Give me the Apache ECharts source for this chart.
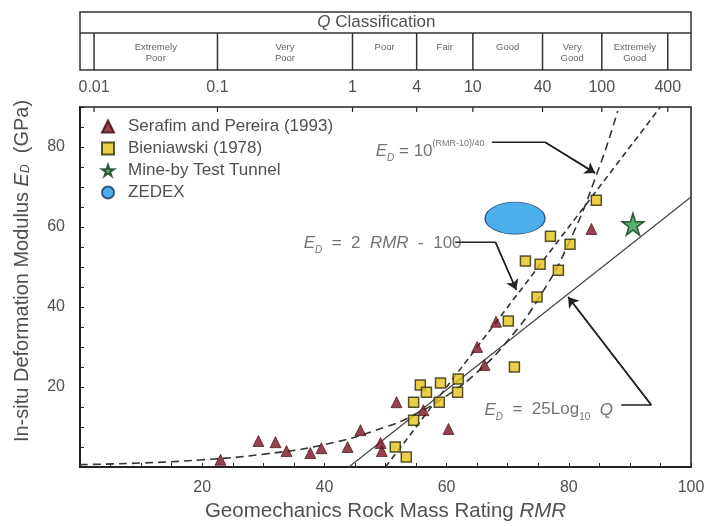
<!DOCTYPE html>
<html><head><meta charset="utf-8">
<script src="https://cdn.jsdelivr.net/npm/echarts@6/dist/echarts.min.js"></script>
<style>html,body{margin:0;padding:0;background:#fff}#c{width:709px;height:526px}</style>
</head><body><div id="c"></div>
<script>
// ---- data ----
const serafim = [[23,1.8],[29.2,6.5],[32,6.2],[33.8,4],[37.7,3.5],[39.5,4.7],[43.8,5],[45.9,9.2],[49.2,6],[49.4,4],[51.8,16.2],[56.2,14.2],[60.3,9.5],[65,30],[66.2,25.5],[68.1,36.3],[83.7,59.5]];
const bieniawski = [[84.5,66.7],[77,57.7],[80.2,55.7],[72.9,51.5],[75.3,50.7],[78.3,49.2],[74.8,42.5],[70.1,36.5],[71.1,25],[61.9,22],[59,21],[55.7,20.5],[56.7,18.7],[61.8,18.7],[54.6,16.2],[58.8,16.2],[54.6,11.7],[51.6,5],[53.4,2.5]];
const mineBy = [[90.5,60.7]];
const zedex = [[71.2,62.2]];
const fitLog = [[44,0],[100,67.5]];
const fitLinear = [[50,0],[95,90]];
const fitExp = [[0,0.6],[10,1.0],[20,1.8],[30,3.2],[40,5.6],[50,10],[55,13.3],[60,17.8],[65,23.7],[70,31.6],[75,42],[80,56],[85,75],[88,89]];
const qTickLabels = ['0.01','0.1','1','4','10','40','100','400'];
const qTickRmr = [2.3,22.5,44.6,55.1,64.3,75.7,85.4,96.2];
const qClasses = ['Extremely\nPoor','Very\nPoor','Poor','Fair','Good','Very\nGood','Extremely\nGood'];
const xTickLabels = [20,40,60,80,100];
const yTickLabels = [20,40,60,80];
const annotAnchors = [[48.4,79],[36.6,56],[66.2,14.3]];
const leaderExp = [[67.4,81.2],[76.1,81.2],[84.3,73.5]];
const leaderLin = [[61.4,56.2],[68,56.2],[71.4,44.3]];
const leaderLog = [[88.6,15.5],[93.5,15.5],[79.9,42.5]];
const legendNames = ['Serafim and Pereira (1993)','Bieniawski (1978)','Mine-by Test Tunnel','ZEDEX'];

const FONT = '"Liberation Sans", Arial, sans-serif';
const TXT = '#505050';
const STAR = 'path://M50,0 L61,35 L98,35 L68,57 L79,91 L50,70 L21,91 L32,57 L2,35 L39,35 Z';

function leader(data){
  const n = data.length;
  return {
    type:'line', data:data, symbol:'none', silent:true, animation:false, z:4,
    lineStyle:{color:'#222', width:1.5},
    markLine:{silent:true, animation:false, symbol:['none','arrow'], symbolSize:10,
      label:{show:false}, lineStyle:{color:'#222', width:1.5, type:'solid'},
      data:[[{coord:data[n-2]},{coord:data[n-1]}]]}
  };
}
const richBase = {
  n:{fontSize:17, color:TXT, fontFamily:FONT, lineHeight:24},
  e:{fontSize:17, color:TXT, fontFamily:FONT, fontStyle:'italic', lineHeight:24},
  sub:{fontSize:10, color:TXT, fontFamily:FONT, fontStyle:'italic', verticalAlign:'bottom', lineHeight:24},
  subn:{fontSize:10, color:TXT, fontFamily:FONT, verticalAlign:'bottom', lineHeight:24},
  sup:{fontSize:9, color:TXT, fontFamily:FONT, verticalAlign:'top', lineHeight:24}
};
const annotTexts = [
  '{e|E}{sub|D}{n| = 10}{sup|(RMR-10)/40}',
  '{e|E}{sub|D}{n|  =  2  }{e|RMR}{n|  -  100}',
  '{e|E}{sub|D}{n|  =  25Log}{subn|10}{n|  }{e|Q}'
];

const chart = echarts.init(document.getElementById('c'), null, {renderer:'canvas'});
chart.setOption({
  animation:false,
  backgroundColor:'#fff',
  textStyle:{fontFamily:FONT},
  grid:[
    {left:80, right:18, top:107, bottom:59, show:true, borderColor:'#222', borderWidth:1.5, containLabel:false, outerBoundsMode:'none'},
    {left:80, right:18, top:12, height:58, show:true, borderColor:'#333', borderWidth:1.5, containLabel:false, outerBoundsMode:'none'}
  ],
  legend:{
    orient:'vertical', left:96, top:113, itemWidth:12, itemHeight:12, itemGap:5,
    data:[
      {name:legendNames[0], icon:'triangle'},
      {name:legendNames[1], icon:'rect'},
      {name:legendNames[2], icon:STAR},
      {name:legendNames[3], icon:'circle'}
    ],
    textStyle:{fontSize:17, color:TXT, fontFamily:FONT, padding:[0,0,0,9]}
  },
  xAxis:[
    {gridIndex:0, type:'value', min:0, max:100, interval:5,
     name:'{n|Geomechanics Rock Mass Rating }{i|RMR}', nameLocation:'middle', nameGap:34,
     nameTextStyle:{rich:{n:{fontSize:20.5, color:TXT, fontFamily:FONT}, i:{fontSize:20.5, color:TXT, fontFamily:FONT, fontStyle:'italic'}}},
     axisLine:{lineStyle:{color:'#222', width:2}},
     axisTick:{inside:true, length:4, lineStyle:{color:'#222'}},
     axisLabel:{margin:13, fontSize:16, color:TXT, fontFamily:FONT,
       formatter:v => xTickLabels.indexOf(v) >= 0 ? String(v) : ''},
     splitLine:{show:false}},
    {gridIndex:1, type:'value', min:0, max:100, show:false}
  ],
  yAxis:[
    {gridIndex:0, type:'value', min:0, max:90, interval:5,
     name:'{n|In-situ Deformation Modulus }{e|E}{s|D}{n|  (GPa)}', nameLocation:'middle', nameGap:48,
     nameTextStyle:{padding:[0,0,0,32], rich:{n:{fontSize:20, color:TXT, fontFamily:FONT}, e:{fontSize:20, color:TXT, fontFamily:FONT, fontStyle:'italic'}, s:{fontSize:12, color:TXT, fontFamily:FONT, fontStyle:'italic', padding:[8,0,0,0]}}},
     axisLine:{lineStyle:{color:'#222', width:2}},
     axisTick:{inside:true, length:4, lineStyle:{color:'#222'}},
     axisLabel:{margin:15, fontSize:16, color:TXT, fontFamily:FONT,
       formatter:v => yTickLabels.indexOf(v) >= 0 ? String(v) : ''},
     splitLine:{show:false}},
    {gridIndex:1, type:'value', min:0, max:58, show:false}
  ],
  series:[
    {type:'line', name:'fitExp', data:fitExp, smooth:true, symbol:'none', silent:true, z:3,
     lineStyle:{color:'#333', width:1.6, type:[8,5]}},
    {type:'line', name:'fitLinear', data:fitLinear, symbol:'none', silent:true, z:3,
     lineStyle:{color:'#333', width:1.6, type:[6,4]}},
    {type:'line', name:'fitLog', data:fitLog, symbol:'none', silent:true, z:3,
     lineStyle:{color:'#444', width:1.2}},
    {type:'scatter', name:legendNames[0], data:serafim, symbol:'triangle', symbolSize:11, z:5,
     itemStyle:{color:'#7c1222', borderColor:'#3a0808', borderWidth:0.8}},
    {type:'scatter', name:legendNames[1], data:bieniawski, symbol:'rect', symbolSize:10, z:6,
     itemStyle:{color:'#e5c41a', borderColor:'#2b2a0c', borderWidth:1.5}},
    {type:'scatter', name:legendNames[2], data:mineBy, symbol:STAR, symbolSize:22, z:6,
     itemStyle:{color:'#2f9c4c', borderColor:'#0e3a18', borderWidth:1.5}},
    {type:'scatter', name:legendNames[3], data:zedex, symbol:'circle', symbolSize:[60,32], z:6,
     itemStyle:{color:'#1f9be6', borderColor:'#173a60', borderWidth:1}},
    leader(leaderExp), leader(leaderLin), leader(leaderLog),
    {type:'scatter', name:'annot', data:annotAnchors, symbolSize:0, silent:true, z:7,
     label:{show:true, position:'right', distance:0, formatter:p => annotTexts[p.dataIndex], rich:richBase}},
    {type:'custom', name:'qTicks', xAxisIndex:0, yAxisIndex:0, silent:true, z:8,
     data:qTickRmr.map(x => [x, 90]),
     renderItem:(params, api) => {
       const p = api.coord([api.value(0), api.value(1)]);
       return {type:'line', shape:{x1:p[0], y1:p[1], x2:p[0], y2:p[1]+5}, style:{stroke:'#222', lineWidth:1.2}};
     }},
    {type:'custom', name:'qDividers', xAxisIndex:1, yAxisIndex:1, silent:true,
     data:qTickRmr.map((x,i) => [x, i]),
     renderItem:(params, api) => {
       const x = api.value(0);
       const t = api.coord([x, 37]), b = api.coord([x, 0]), l = api.coord([x, -18]);
       return {type:'group', children:[
         {type:'line', shape:{x1:t[0], y1:t[1], x2:b[0], y2:b[1]}, style:{stroke:'#333', lineWidth:1.5}},
         {type:'text', x:l[0], y:l[1], style:{text:qTickLabels[params.dataIndex], align:'center', verticalAlign:'middle', fontSize:16, fontFamily:FONT, fill:TXT}}
       ]};
     }},
    {type:'custom', name:'qClasses', xAxisIndex:1, yAxisIndex:1, silent:true,
     data:qClasses.map((c,i) => [(qTickRmr[i]+qTickRmr[i+1])/2, i]),
     renderItem:(params, api) => {
       const p = api.coord([api.value(0), 28]);
       return {type:'text', x:p[0], y:p[1], style:{text:qClasses[params.dataIndex], align:'center', verticalAlign:'top', fontSize:9.5, lineHeight:11, fontFamily:FONT, fill:'#666'}};
     }},
    {type:'custom', name:'qHeader', xAxisIndex:1, yAxisIndex:1, silent:true,
     data:[[48.5, 47.5]],
     renderItem:(params, api) => {
       const c = api.coord([api.value(0), api.value(1)]);
       const a = api.coord([0, 37]), b = api.coord([100, 37]);
       return {type:'group', children:[
         {type:'line', shape:{x1:a[0], y1:a[1], x2:b[0], y2:b[1]}, style:{stroke:'#333', lineWidth:1.5}},
         {type:'text', x:c[0], y:c[1], style:{text:'{q|Q} Classification', align:'center', verticalAlign:'middle', fontSize:17, fontFamily:FONT, fill:TXT,
           rich:{q:{fontStyle:'italic', fontSize:17, fontFamily:FONT, fill:TXT}}}}
       ]};
     }}
  ]
});
</script></body></html>
